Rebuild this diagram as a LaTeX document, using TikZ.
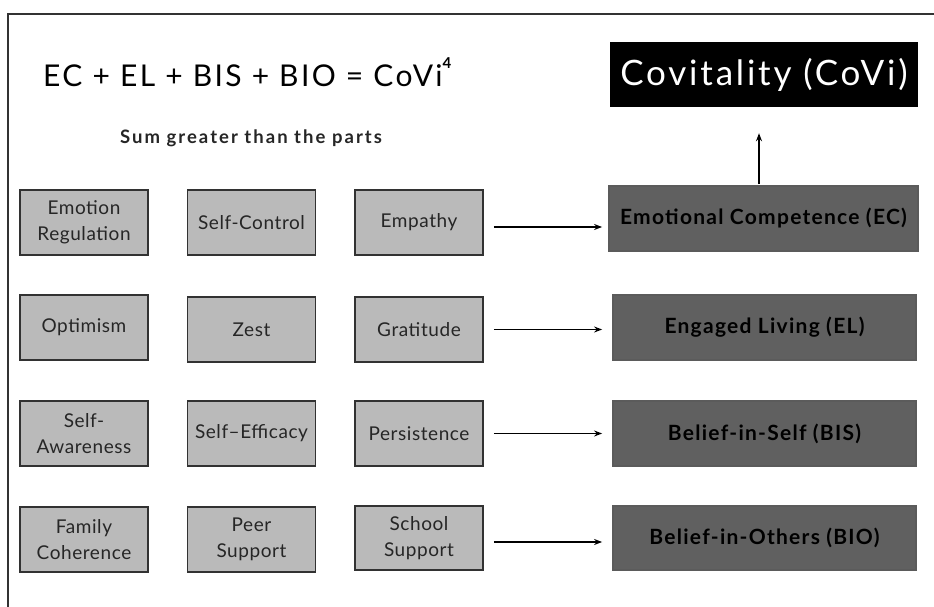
\documentclass[tikz,border=0pt]{standalone}
\usepackage{fontspec}
\setmainfont{Lato}
\usetikzlibrary{arrows.meta}
\definecolor{smallfill}{RGB}{186,186,186}
\definecolor{bigfill}{RGB}{96,96,96}
\definecolor{edge}{RGB}{50,50,50}
\newcommand{\ls}[1]{\addfontfeatures{LetterSpace=#1}}
\tikzset{
  sbox/.style={draw=edge, line width=1.8pt, fill=smallfill, minimum width=128pt, minimum height=65pt, inner sep=0pt, align=center, font=\fontsize{19}{26}\selectfont\ls{3}, text=black!85},
  bbox/.style={draw=edge!80, line width=1.8pt, fill=bigfill, minimum width=303pt, minimum height=65pt, inner sep=0pt, align=center, font=\fontsize{21}{24}\selectfont\bfseries\ls{6}, text=black},
  arr/.style={-{Stealth[length=8pt,width=6pt]}, line width=1.4pt, black}
}
\begin{document}
\begin{tikzpicture}[x=1pt,y=-1pt]
\useasboundingbox[fill=white] (0,0) rectangle (934,607);
% frame
\draw[edge, line width=2pt] (8,607) -- (8,14) -- (934,14);
% title
\node[anchor=base west, inner sep=0pt, font=\fontsize{30}{34}\selectfont\ls{8}] (eq) at (43,87) {EC + EL + BIS + BIO = CoVi\raisebox{0.62em}{\fontsize{15}{15}\selectfont\bfseries 4}};
\node[anchor=base, inner sep=0pt, font=\fontsize{18.5}{20}\selectfont\bfseries\ls{11}, text=black!85] (sum) at (251,143) {Sum greater than the parts};
\node[fill=black, minimum width=308pt, minimum height=65pt, inner sep=0pt, text=white, font=\fontsize{35}{38}\selectfont\ls{8}] (covi) at (764,74.5) {Covitality (CoVi)};
% small boxes
\node[sbox] (er) at (84,222.5) {Emotion\\Regulation};
\node[sbox] (sc) at (251.5,222.5) {Self-Control};
\node[sbox] (emp) at (419,222.5) {Empathy};
\node[sbox] (opt) at (84,327.5) {Optimism};
\node[sbox] (zest) at (251.5,329.5) {Zest};
\node[sbox] (grat) at (419,329.5) {Gratitude};
\node[sbox] (sa) at (84,433.5) {Self-\\Awareness};
\node[sbox] (se) at (251.5,433.5) {Self--Efficacy};
\node[sbox] (pers) at (419,433.5) {Persistence};
\node[sbox] (fc) at (84,539.5) {Family\\Coherence};
\node[sbox] (ps) at (251.5,539.5) {Peer\\Support};
\node[sbox, minimum height=64pt] (ss) at (419,538) {School\\Support};
% big boxes
\node[bbox, minimum width=309pt] (ec) at (763.5,218.5) {Emotional Competence (EC)};
\node[bbox] (el) at (764.5,327.5) {Engaged Living (EL)};
\node[bbox] (bis) at (764.5,433.5) {Belief-in-Self (BIS)};
\node[bbox, minimum height=64pt] (bio) at (764.5,538) {Belief-in-Others (BIO)};
% arrows
\draw[arr, shorten <=10pt, shorten >=6pt] (emp.east |- 0,227) -- (ec.west |- 0,227);
\draw[arr, shorten <=10pt, shorten >=10pt] (grat.east) -- (grat.east -| el.west);
\draw[arr, shorten <=10pt, shorten >=10pt] (pers.east) -- (pers.east -| bis.west);
\draw[arr, shorten <=10pt, shorten >=10pt] (ss.east |- 0,542) -- (bio.west |- 0,542);
\draw[arr, shorten <=1pt, shorten >=26pt] (ec.north -| 759,0) -- (covi.south -| 759,0);
\end{tikzpicture}
\end{document}
